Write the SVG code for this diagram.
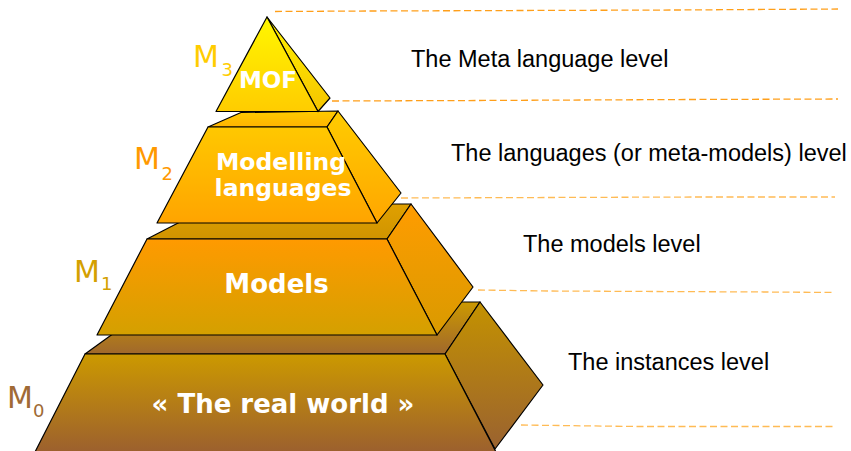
<svg xmlns="http://www.w3.org/2000/svg" width="851" height="451" viewBox="0 0 851 451">
<defs>
<linearGradient id="gMofF" x1="0" y1="0" x2="0" y2="1"><stop offset="0" stop-color="#fff700"/><stop offset="1" stop-color="#ffcc00"/></linearGradient>
<linearGradient id="gMofS" x1="0" y1="0" x2="0" y2="1"><stop offset="0" stop-color="#fff200"/><stop offset="1" stop-color="#f5c400"/></linearGradient>
<linearGradient id="gM2L" x1="0" y1="0" x2="0" y2="1"><stop offset="0" stop-color="#ffcc00"/><stop offset="1" stop-color="#ffb400"/></linearGradient>
<linearGradient id="gM2F" x1="0" y1="0" x2="0" y2="1"><stop offset="0" stop-color="#ffc800"/><stop offset="1" stop-color="#ffa400"/></linearGradient>
<linearGradient id="gM2S" x1="0" y1="0" x2="0" y2="1"><stop offset="0" stop-color="#ffcc00"/><stop offset="1" stop-color="#ffa600"/></linearGradient>
<linearGradient id="gM1L" x1="0" y1="0" x2="0" y2="1"><stop offset="0" stop-color="#e0a000"/><stop offset="1" stop-color="#d09400"/></linearGradient>
<linearGradient id="gM1F" x1="0" y1="0" x2="0" y2="1"><stop offset="0" stop-color="#ff9a00"/><stop offset="1" stop-color="#d4a000"/></linearGradient>
<linearGradient id="gM1S" x1="0" y1="0" x2="0" y2="1"><stop offset="0" stop-color="#ff9c00"/><stop offset="1" stop-color="#d99a00"/></linearGradient>
<linearGradient id="gM0L" x1="0" y1="0" x2="0" y2="1"><stop offset="0" stop-color="#cc9900"/><stop offset="1" stop-color="#a0682c"/></linearGradient>
<linearGradient id="gM0F" x1="0" y1="0" x2="0" y2="1"><stop offset="0" stop-color="#cc9900"/><stop offset="1" stop-color="#9c602e"/></linearGradient>
<linearGradient id="gM0S" x1="0" y1="0" x2="0" y2="1"><stop offset="0" stop-color="#c49200"/><stop offset="1" stop-color="#9a6230"/></linearGradient>
</defs>
<style>
.face{stroke:#000;stroke-width:1.2;stroke-linejoin:round}
.title{font-family:"DejaVu Sans",sans-serif;font-weight:bold;fill:#fff;text-anchor:middle}
.mlab{font-family:"DejaVu Sans",sans-serif}
.lvl{font-family:"Liberation Sans",Arial,sans-serif;font-size:23.5px;fill:#000}
.guide{fill:none;stroke-width:1.3;stroke-dasharray:7 3.5}
</style>
<g id="connectors">
<path class="guide" stroke="#ff9f1a" d="M275,11.5 L370,11 L677,10 L838,9"/>
<path class="guide" stroke="#ff9f1a" d="M332,101 L477,100.5 L690,99.5 L838,99"/>
<path class="guide" stroke="#ffbb55" d="M401,198 L697,197 L835,197"/>
<path class="guide" stroke="#ffbb55" d="M478,290 L548,291 L767,292 L835,292.5"/>
<path class="guide" stroke="#ffbb55" d="M521,425 L635,426.5 L835,426.5"/>
</g>
<g id="level-m0">
<polygon class="face" fill="url(#gM0L)" points="85,354 445,354 480,302 157,302"/>
<polygon class="face" fill="url(#gM0S)" points="445,354 480,302 543,385 495,449"/>
<polygon class="face" fill="url(#gM0F)" points="85,354 445,354 496,452 35,452"/>
<text class="title" x="283" y="413" font-size="26">« The real world »</text>
<text class="mlab" fill="#a06a35" x="7" y="408" font-size="30">M</text>
<text class="mlab" fill="#a06a35" x="33" y="417" font-size="18">0</text>
</g>
<g id="level-m1">
<polygon class="face" fill="url(#gM1L)" points="147,239 387,239 411,204 215,204"/>
<polygon class="face" fill="url(#gM1S)" points="387,239 411,204 473,287 437,335"/>
<polygon class="face" fill="url(#gM1F)" points="147,239 387,239 437,335 97,335"/>
<text class="title" x="276.5" y="293" font-size="26">Models</text>
<text class="mlab" fill="#d4a000" x="74" y="282" font-size="30">M</text>
<text class="mlab" fill="#d4a000" x="101" y="290" font-size="18">1</text>
</g>
<g id="level-m2">
<polygon class="face" fill="url(#gM2L)" points="208,127 327,127 338,111 241,112.5"/>
<polygon class="face" fill="url(#gM2S)" points="327,127 338,111 401,193 377,223"/>
<polygon class="face" fill="url(#gM2F)" points="208,127 327,127 377,223 157,223"/>
<text class="title" x="281" y="170" font-size="23.5">Modelling</text>
<text class="title" x="283" y="196" font-size="23.5">languages</text>
<text class="mlab" fill="#ff9900" x="134" y="169" font-size="30">M</text>
<text class="mlab" fill="#ff9900" x="161.5" y="180" font-size="18">2</text>
</g>
<g id="level-m3">
<polygon class="face" fill="url(#gMofS)" points="267,17 330,98 318,111.5"/>
<polygon class="face" fill="url(#gMofF)" points="267,17 318,111.5 216,111.5"/>
<text class="title" x="268" y="88" font-size="23">MOF</text>
<text class="mlab" fill="#ffcc00" x="193" y="67" font-size="30">M</text>
<text class="mlab" fill="#ffcc00" x="221.5" y="76" font-size="18">3</text>
</g>
<g id="labels">
<text class="lvl" x="411" y="67">The Meta language level</text>
<text class="lvl" x="451" y="161">The languages (or meta-models) level</text>
<text class="lvl" x="523" y="252">The models level</text>
<text class="lvl" x="568" y="370">The instances level</text>
</g>
</svg>
